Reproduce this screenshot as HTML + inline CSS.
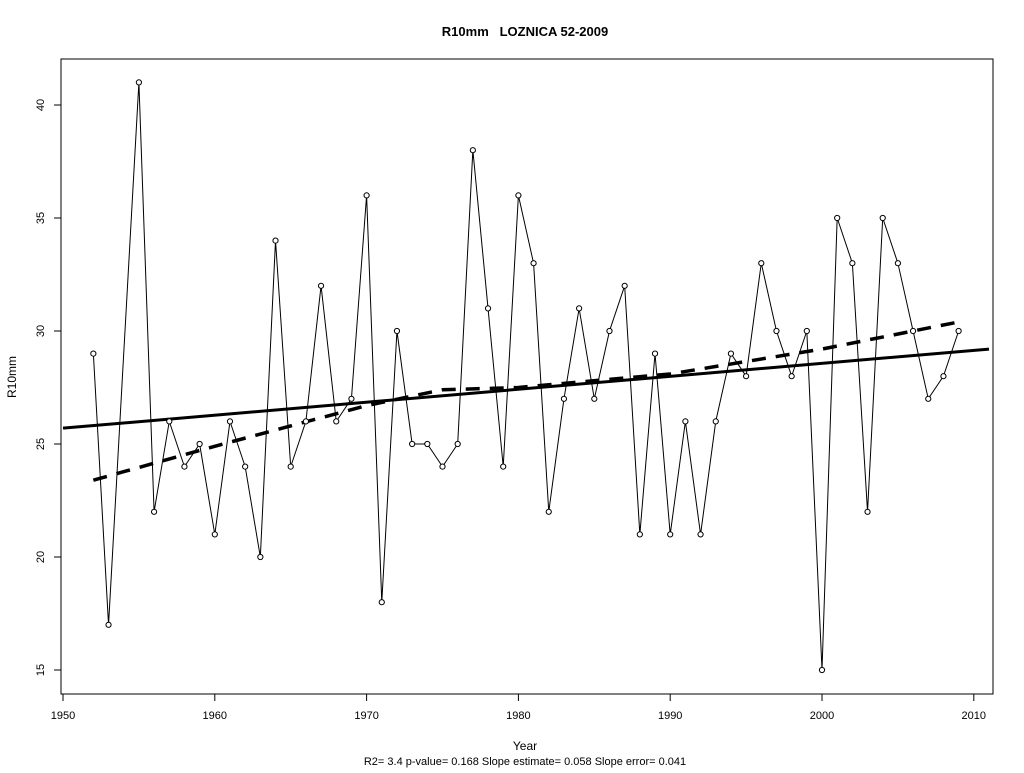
<!DOCTYPE html>
<html><head><meta charset="utf-8"><style>
body{margin:0;background:#fff;}
svg text{font-family:"Liberation Sans",Arial,sans-serif;fill:#000;}
</style></head><body>
<svg id="chart" width="1024" height="768" xmlns="http://www.w3.org/2000/svg">
<rect width="1024" height="768" fill="#fff"/>
<text x="525" y="36" font-size="13" font-weight="bold" text-anchor="middle" xml:space="preserve">R10mm   LOZNICA 52-2009</text>
<rect x="61" y="59" width="932" height="635" fill="none" stroke="#000" stroke-width="1"/>
<text x="525" y="750" font-size="12" text-anchor="middle">Year</text>
<text x="525" y="765" font-size="11" text-anchor="middle">R2= 3.4  p-value= 0.168  Slope estimate= 0.058  Slope error= 0.041</text>
<text transform="translate(16,377) rotate(-90)" font-size="12" text-anchor="middle">R10mm</text>
<g id="axes"></g><g id="marks"></g>
</svg>
<script>
const years=[1952,1953,1954,1955,1956,1957,1958,1959,1960,1961,1962,1963,1964,1965,1966,1967,1968,1969,1970,1971,1972,1973,1974,1975,1976,1977,1978,1979,1980,1981,1982,1983,1984,1985,1986,1987,1988,1989,1990,1991,1992,1993,1994,1995,1996,1997,1998,1999,2000,2001,2002,2003,2004,2005,2006,2007,2008,2009];
const values=[29,17,null,41,22,26,24,25,21,26,24,20,34,24,26,32,26,27,36,18,30,25,25,24,25,38,31,24,36,33,22,27,31,27,30,32,21,29,21,26,21,26,29,28,33,30,28,30,15,35,33,22,35,33,30,27,28,30];
const trendYears=[1950,2011];
const trendValues=[25.7,29.2];
const smoothYears=[1952,1960,1970,1975,1980,1990,2000,2009];
const smoothValues=[23.4,24.9,26.7,27.4,27.5,28.1,29.2,30.4];
const xTicks=[1950,1960,1970,1980,1990,2000,2010];
const yTicks=[15,20,25,30,35,40];
const NS="http://www.w3.org/2000/svg";
const X=v=>63+(v-1950)*15.18;
const Y=v=>670-(v-15)*22.6;
function mk(t,a,p){const e=document.createElementNS(NS,t);for(const k in a)e.setAttribute(k,a[k]);p.appendChild(e);return e;}
const axes=document.getElementById('axes'),marks=document.getElementById('marks');
mk('line',{x1:X(1950),x2:X(2010),y1:694,y2:694,stroke:'#000'},axes);
xTicks.forEach(t=>{
 const l=mk('line',{x1:X(t),x2:X(t),y1:694,y2:701,stroke:'#000'},axes);
 
 
 const tx=mk('text',{x:X(t),y:719,'font-size':11,'text-anchor':'middle'},axes);tx.textContent=t;
 
 
});
mk('line',{x1:61,x2:61,y1:Y(15),y2:Y(40),stroke:'#000'},axes);
yTicks.forEach(t=>{
 const l=mk('line',{x1:54,x2:61,y1:Y(t),y2:Y(t),stroke:'#000'},axes);
 
 
 const tx=mk('text',{transform:`translate(44,${Y(t)}) rotate(-90)`,'font-size':11,'text-anchor':'middle'},axes);tx.textContent=t;
 
 
});
const pts=years.map((y,i)=>[y,values[i]]).filter(p=>p[1]!==null);
const line=mk('polyline',{points:pts.map(p=>X(p[0])+','+Y(p[1])).join(' '),fill:'none',stroke:'#000','stroke-width':1},marks);


const tr=mk('line',{x1:X(trendYears[0]),y1:Y(trendValues[0]),x2:X(trendYears[1]),y2:Y(trendValues[1]),stroke:'#000','stroke-width':3},marks);


const sm=mk('polyline',{points:smoothYears.map((y,i)=>X(y)+','+Y(smoothValues[i])).join(' '),fill:'none',stroke:'#000','stroke-width':3.5,'stroke-dasharray':'14 10'},marks);


pts.forEach(p=>{
 const c=mk('circle',{cx:X(p[0]),cy:Y(p[1]),r:2.6,fill:'#fff',stroke:'#000','stroke-width':1},marks);
 
 
});
</script>
</body></html>
